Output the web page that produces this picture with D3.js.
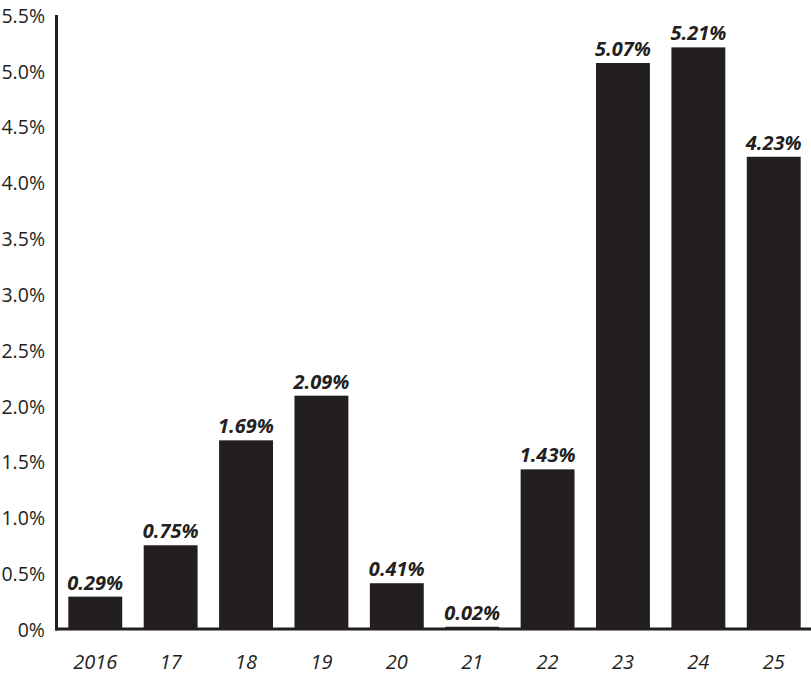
<!DOCTYPE html>
<html>
<head>
<meta charset="utf-8">
<script src="https://cdn.jsdelivr.net/npm/d3@7"></script>
<style>
  body { margin: 0; background: #fff; }
  text { font-family: "Open Sans", "Noto Sans", sans-serif; fill: #231f20; }
</style>
</head>
<body>
<script>
const WIDTH = 811
const HEIGHT = 675

// data
const years = ["2016", "17", "18", "19", "20", "21", "22", "23", "24", "25"]
const values = [0.29, 0.75, 1.69, 2.09, 0.41, 0.02, 1.43, 5.07, 5.21, 4.23]
const yTicks = [0, 0.5, 1.0, 1.5, 2.0, 2.5, 3.0, 3.5, 4.0, 4.5, 5.0, 5.5]

const svg = d3.select("body").append("svg")
    .attr("width", WIDTH)
    .attr("height", HEIGHT)

const x = d3.scaleBand()
    .domain(years)
    .range([57, 812])
    .paddingInner(0.285)
    .paddingOuter(0.15)

const y = d3.scaleLinear()
    .domain([0, 5.5])
    .range([629, 15])

// bars
svg.selectAll("rect")
  .data(values)
  .enter()
  .append("rect")
  .attr("x", (d, i) => x(years[i]))
  .attr("y", d => y(d))
  .attr("width", x.bandwidth())
  .attr("height", d => y(0) - y(d))
  .attr("fill", "#231f20")

// value labels
svg.selectAll(".val")
  .data(values)
  .enter()
  .append("text")
  .attr("class", "val")
  .attr("x", (d, i) => x(years[i]) + x.bandwidth() / 2)
  .attr("y", d => y(d) - 7)
  .attr("text-anchor", "middle")
  .attr("font-size", 20)
  .attr("font-weight", "bold")
  .attr("font-style", "italic")
  .text(d => d.toFixed(2) + "%")

// axes lines
svg.append("line")
  .attr("x1", 56.5).attr("x2", 56.5)
  .attr("y1", y(5.5)).attr("y2", y(0) + 1.5)
  .attr("stroke", "#231f20").attr("stroke-width", 3)
svg.append("line")
  .attr("x1", 55).attr("x2", WIDTH)
  .attr("y1", y(0)).attr("y2", y(0))
  .attr("stroke", "#231f20").attr("stroke-width", 3)

// y tick labels
svg.selectAll(".ytick")
  .data(yTicks)
  .enter()
  .append("text")
  .attr("class", "ytick")
  .attr("x", 45)
  .attr("y", d => y(d) + 1)
  .attr("dy", "0.35em")
  .attr("text-anchor", "end")
  .attr("font-size", 19.5)
  .text(d => d === 0 ? "0%" : d.toFixed(1) + "%")

// x labels
svg.selectAll(".xtick")
  .data(years)
  .enter()
  .append("text")
  .attr("class", "xtick")
  .attr("x", d => x(d) + x.bandwidth() / 2)
  .attr("y", 669)
  .attr("text-anchor", "middle")
  .attr("font-size", 20)
  .attr("font-style", "italic")
  .text(d => d)
</script>
</body>
</html>
